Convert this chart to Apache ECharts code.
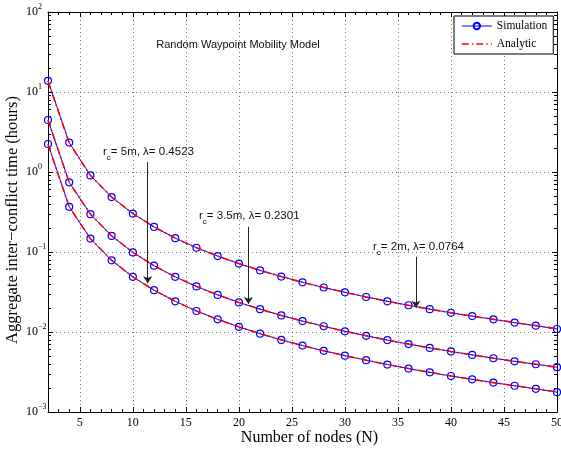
<!DOCTYPE html>
<html>
<head>
<meta charset="utf-8">
<script src="https://cdn.jsdelivr.net/npm/echarts@6/dist/echarts.min.js"></script>
<style>html,body{margin:0;padding:0;background:#fff;}#c{width:561px;height:450px;}</style>
</head>
<body>
<div id="c"></div>
<script>
// ---- data ----
const nodes = [2,4,6,8,10,12,14,16,18,20,22,24,26,28,30,32,34,36,38,40,42,44,46,48,50];
// r_c = 2m, lambda = 0.0764 (top curve)
const simTop = [13.8,2.33,0.907,0.486,0.302,0.206,0.149,0.113,0.0889,0.0716,0.0589,0.0493,0.0418,0.0360,0.0313,0.0274,0.0242,0.0216,0.0193,0.0174,0.0158,0.0144,0.0131,0.0120,0.0109];
// r_c = 3.5m, lambda = 0.2301 (middle curve)
const simMid = [4.47,0.742,0.297,0.159,0.0989,0.0674,0.0489,0.0371,0.0291,0.0234,0.0193,0.0161,0.0137,0.0118,0.0102,0.00897,0.00793,0.00706,0.00633,0.00571,0.00517,0.00470,0.00430,0.00395,0.00363];
// r_c = 5m, lambda = 0.4523 (bottom curve)
const simBot = [2.24,0.367,0.147,0.0786,0.0489,0.0333,0.0242,0.0183,0.0144,0.0116,0.00952,0.00797,0.00677,0.00582,0.00506,0.00444,0.00392,0.00349,0.00313,0.00282,0.00256,0.00233,0.00213,0.00195,0.00177];
const anaTop = [13.6,2.30,0.907,0.486,0.302,0.206,0.149,0.113,0.0889,0.0716,0.0589,0.0493,0.0418,0.0360,0.0313,0.0274,0.0242,0.0216,0.0193,0.0174,0.0158,0.0144,0.0131,0.0120,0.0110];
const anaMid = [4.45,0.742,0.297,0.159,0.0989,0.0674,0.0489,0.0371,0.0291,0.0234,0.0193,0.0161,0.0137,0.0118,0.0102,0.00897,0.00793,0.00706,0.00633,0.00571,0.00517,0.00470,0.00430,0.00395,0.00363];
const anaBot = [2.22,0.367,0.147,0.0786,0.0489,0.0333,0.0242,0.0183,0.0144,0.0116,0.00952,0.00797,0.00677,0.00582,0.00506,0.00444,0.00392,0.00349,0.00313,0.00282,0.00256,0.00233,0.00213,0.00195,0.00178];
const xMajorTicks = [5,10,15,20,25,30,35,40,45,50];
const yMinorTickVals = [];
[0.001,0.01,0.1,1,10].forEach(d => { for (let k = 2; k <= 9; k++) yMinorTickVals.push(Math.log10(k*d)); });
// annotations
const annoTexts = [
  {r:'r', sub:'c', rest:'= 5m, λ= 0.4523'},
  {r:'r', sub:'c', rest:'= 3.5m, λ= 0.2301'},
  {r:'r', sub:'c', rest:'= 2m, λ= 0.0764'}
];
const arrowX = [11.4, 20.9, 36.7];
const arrowFrom = [1.33, 0.207, 0.0873];
const arrowTo = [0.0406, 0.0224, 0.0201];

const serif = 'Liberation Serif';
const sans = 'Liberation Sans';
const pairs = arr => nodes.map((n,i) => [n, arr[i]]);

const chart = echarts.init(document.getElementById('c'), null, {renderer:'canvas'});

const simStyle = arr => ({
  name:'Simulation', type:'line', data: pairs(arr), xAxisIndex:0, yAxisIndex:0,
  symbol:'circle', symbolSize:7, showSymbol:true,
  lineStyle:{color:'#0000ff', width:1},
  itemStyle:{color:'rgba(255,255,255,0)', borderColor:'#0000ff', borderWidth:1.2},
  color:'#0000ff', animation:false, silent:true, z:3
});
const anaStyle = arr => ({
  name:'Analytic', type:'line', data: pairs(arr), xAxisIndex:0, yAxisIndex:0,
  symbol:'none', showSymbol:false, lineStyle:{color:'#ff0000', width:1.6, type:[7,3,1.5,3]},
  color:'#ff0000', animation:false, silent:true, z:4
});

const gridLine = {show:true, lineStyle:{color:'#555', width:0.8, type:[1,3]}};
const hiddenLine = {show:false, onZero:false};

const option = {
  animation:false,
  backgroundColor:'#fff',
  grid:{left:48, right:4, top:12, bottom:38, containLabel:false, outerBoundsMode:'none'},
  legend:{
    data:[
      {name:'Simulation', lineStyle:{width:1}},
      {name:'Analytic', lineStyle:{width:1.6}, itemStyle:{opacity:0, color:'rgba(0,0,0,0)', borderColor:'rgba(0,0,0,0)'}}
    ],
    orient:'vertical', left:454, top:16,
    itemWidth:30, itemHeight:8, itemGap:6, padding:[4,6,4,7],
    borderColor:'#000', borderWidth:1, backgroundColor:'#fff',
    textStyle:{fontFamily:serif, fontSize:11.5, color:'#000'}, selectedMode:false, z:10
  },
  xAxis:[
    {type:'value', position:'bottom', min:2, max:50,
     name:'Number of nodes (N)', nameLocation:'middle', nameGap:18, nameMoveOverlap:false,
     nameTextStyle:{fontFamily:serif, fontSize:16, color:'#000', padding:[0,0,0,14]},
     axisLine:{show:true, onZero:false, lineStyle:{color:'#000', width:1}},
     axisTick:{show:true, inside:true, length:5, customValues:xMajorTicks, lineStyle:{color:'#000'}},
     axisLabel:{show:true, customValues:xMajorTicks, margin:5, fontFamily:serif, fontSize:12, color:'#000'},
     splitLine:gridLine},
    {type:'value', position:'bottom', min:2, max:50, interval:1,
     axisLine:hiddenLine, axisTick:{show:true, inside:true, length:3, lineStyle:{color:'#000'}},
     axisLabel:{show:false}, splitLine:{show:false}},
    {type:'value', position:'top', min:2, max:50,
     axisLine:{show:true, onZero:false, lineStyle:{color:'#000', width:1}},
     axisTick:{show:true, inside:true, length:5, customValues:xMajorTicks, lineStyle:{color:'#000'}},
     axisLabel:{show:false}, splitLine:{show:false}},
    {type:'value', position:'top', min:2, max:50, interval:1,
     axisLine:hiddenLine, axisTick:{show:true, inside:true, length:3, lineStyle:{color:'#000'}},
     axisLabel:{show:false}, splitLine:{show:false}}
  ],
  yAxis:[
    {type:'log', logBase:10, min:0.001, max:100, position:'left',
     name:'Aggregate inter−conflict time (hours)', nameLocation:'middle', nameGap:27, nameMoveOverlap:false,
     nameTextStyle:{fontFamily:serif, fontSize:16.5, color:'#000', padding:[0,16,0,0]},
     axisLine:{show:true, onZero:false, lineStyle:{color:'#000', width:1}},
     axisTick:{show:true, inside:true, length:5, lineStyle:{color:'#000'}},
     axisLabel:{show:true, margin:22, align:'left',
       formatter: v => { const e = Math.round(Math.log10(v)); return '{b|10}{e|' + (e < 0 ? '−' + (-e) : e) + '}'; },
       rich:{b:{fontFamily:serif, fontSize:12, color:'#000'}, e:{fontFamily:serif, fontSize:8, color:'#000', padding:[0,0,10,0]}}},
     splitLine:gridLine},
    {type:'value', min:-3, max:2, position:'left',
     axisLine:hiddenLine, axisTick:{show:true, inside:true, length:3, customValues:yMinorTickVals, lineStyle:{color:'#000'}},
     axisLabel:{show:false}, splitLine:{show:false}},
    {type:'log', logBase:10, min:0.001, max:100, position:'right',
     axisLine:{show:true, onZero:false, lineStyle:{color:'#000', width:1}},
     axisTick:{show:true, inside:true, length:5, lineStyle:{color:'#000'}},
     axisLabel:{show:false}, splitLine:{show:false}},
    {type:'value', min:-3, max:2, position:'right',
     axisLine:hiddenLine, axisTick:{show:true, inside:true, length:3, customValues:yMinorTickVals, lineStyle:{color:'#000'}},
     axisLabel:{show:false}, splitLine:{show:false}}
  ],
  series:[
    simStyle(simTop), simStyle(simMid), simStyle(simBot),
    anaStyle(anaTop), anaStyle(anaMid), anaStyle(anaBot),
    {name:'arrows', type:'line', data:[], xAxisIndex:0, yAxisIndex:0, silent:true, z:5,
     markLine:{silent:true, symbol:['none','arrow'], symbolSize:7, animation:false,
       label:{show:false}, lineStyle:{color:'#222', width:1, type:'solid'},
       emphasis:{disabled:true},
       data: arrowX.map((x,i) => [{coord:[x, arrowFrom[i]]}, {coord:[x, arrowTo[i]]}])}}
  ]
};
chart.setOption(option);

// title and annotations
const annoPos = [[103,152],[199,216],[373,247]];
const g = [
  {type:'text', x:238, y:45, z:20, silent:true,
   style:{text:'Random Waypoint Mobility Model', font:'11px "Liberation Sans"', fill:'#111', align:'center', verticalAlign:'middle'}}
];
annoTexts.forEach((a,i) => {
  g.push({type:'text', x:annoPos[i][0], y:annoPos[i][1], z:20, silent:true,
    style:{text:'{m|' + a.r + '}{s|' + a.sub + '}{m|' + a.rest + '}', align:'left', verticalAlign:'middle',
      rich:{m:{fontFamily:sans, fontSize:11.5, fill:'#111', color:'#111'},
            s:{fontFamily:sans, fontSize:8, fill:'#111', color:'#111', padding:[11,0,0,0]}}}});
});
chart.setOption({graphic:g});
</script>
</body>
</html>
